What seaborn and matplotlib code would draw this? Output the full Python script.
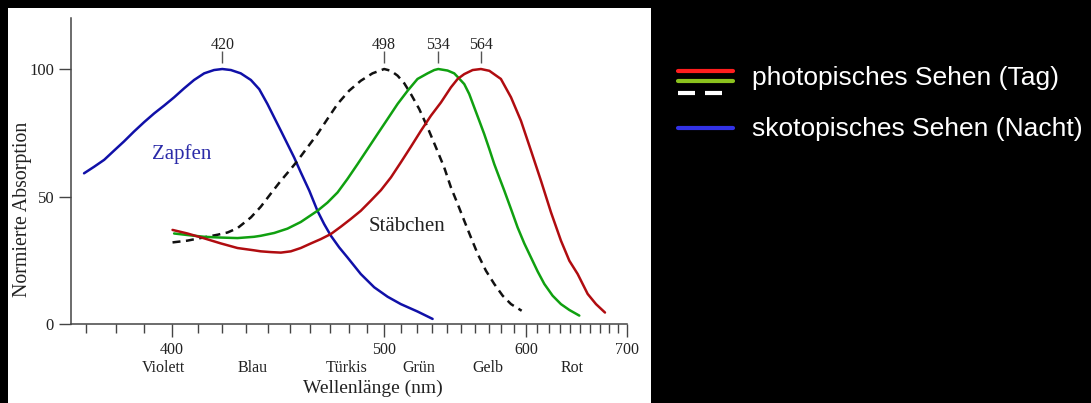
import matplotlib.pyplot as plt
import matplotlib.transforms as mtransforms
import numpy as np
import pandas as pd
import seaborn as sns
from matplotlib.lines import Line2D
from matplotlib.patches import Rectangle
from matplotlib.ticker import FixedLocator, NullFormatter

# absorption curves (wavelength in nm, normalised absorption)
nm_zapfen_s = [369.5, 372.8, 376.1, 379.4, 382.8, 386.3, 389.9, 393.5, 397.2,
               400.9, 404.7, 408.6, 412.6, 416.6, 420, 423.6, 427.8, 432.2,
               435.9, 439.6, 442.7, 445.8, 448.9, 452.1, 455.3, 459.5, 463.6,
               467, 470.5, 474.9, 479.3, 486.6, 494.2, 502, 510, 520.4, 530.2]
abs_zapfen_s = [59.1, 61.7, 64.4, 68.0, 71.6, 75.5, 79.2, 82.6, 85.7, 88.9,
                92.4, 95.7, 98.3, 99.6, 100, 99.6, 98.3, 95.7, 92.1, 86.3, 81.0,
                75.8, 70.6, 65.3, 59.5, 52.3, 44.4, 39.2, 34.6, 30.0, 26.1,
                19.6, 14.4, 10.7, 7.8, 4.9, 2.0]

nm_zapfen_m = [400.9, 406.0, 412.6, 419.4, 426.4, 433.6, 436.6, 442.7, 448.9,
               455.3, 463.6, 468.7, 474.0, 479.3, 484.8, 490.4, 496.1, 502.0,
               508.0, 514.2, 520.4, 526.9, 531.3, 534, 540.3, 544.9, 547.3,
               552.0, 555.6, 559.3, 563.0, 566.7, 570.6, 574.4, 578.3, 582.3,
               587.7, 593.1, 598.7, 604.4, 610.2, 616.1, 623.6, 631.3, 639.3,
               649.0]
abs_zapfen_m = [35.5, 34.9, 34.2, 33.9, 33.7, 34.2, 34.6, 35.7, 37.4, 40.0,
                44.4, 47.6, 51.6, 56.9, 62.7, 68.6, 74.5, 80.4, 86.3, 91.5,
                96.1, 98.3, 99.6, 100, 99.4, 98.3, 96.9, 94.1, 90.2, 84.9, 79.7,
                74.5, 68.6, 62.7, 57.5, 52.3, 45.1, 37.9, 31.6, 26.1, 20.6,
                15.7, 11.1, 7.8, 5.5, 3.3]

nm_zapfen_l = [400.3, 406.0, 412.6, 419.4, 426.4, 433.6, 436.6, 441.2, 445.8,
               450.5, 455.3, 460.3, 465.3, 470.5, 475.8, 481.1, 486.6, 492.3,
               498.1, 504.0, 510.0, 516.2, 522.6, 529.1, 535.8, 542.6, 547.3,
               552.0, 558.1, 564.2, 570.6, 579.6, 587.7, 595.9, 604.4, 613.1,
               622.1, 631.3, 639.3, 647.4, 657.4, 666.0, 675.5]
abs_zapfen_l = [36.9, 35.5, 33.6, 31.6, 29.8, 28.9, 28.5, 28.2, 28.0, 28.5,
                29.8, 31.6, 33.3, 35.3, 38.2, 41.2, 44.4, 48.4, 52.5, 57.5,
                63.4, 69.5, 75.8, 81.7, 86.9, 92.8, 96.1, 98.0, 99.6, 100,
                99.3, 96.1, 88.9, 79.7, 68.0, 56.2, 43.8, 32.7, 24.8, 19.6,
                11.8, 7.8, 4.5]

nm_staebchen = [400.3, 406.0, 412.6, 418.0, 422.2, 426.4, 432.2, 436.6, 441.2,
                445.8, 450.5, 453.7, 458.6, 463.6, 468.7, 474.0, 480.2, 486.6,
                493.2, 500.0, 504.0, 508.0, 512.1, 516.2, 521.5, 526.9, 532.4,
                538.0, 542.6, 547.3, 552.0, 556.8, 561.8, 568.0, 574.4, 581.0,
                587.7, 596.5]
abs_staebchen = [32.0, 32.7, 34.0, 35.0, 35.9, 37.6, 41.8, 46.0, 51.2, 56.2,
                 60.8, 64.0, 69.3, 74.5, 80.4, 86.3, 91.5, 95.4, 98.3, 100,
                 99.3, 97.4, 94.4, 90.2, 84.3, 77.1, 69.3, 61.4, 53.6, 47.1,
                 40.5, 34.0, 27.5, 20.9, 15.7, 11.1, 7.8, 5.2]

peak_labels = ["420", "498", "534", "564"]
band_names = ["Violett", "Blau", "Türkis", "Grün", "Gelb", "Rot"]
band_nm = [397, 433, 479, 521.5, 569.5, 642]
major_ticks = [400, 500, 600, 700]
minor_ticks = list(range(370, 701, 10))

curves = {
    "S": (nm_zapfen_s, abs_zapfen_s),
    "rod": (nm_staebchen, abs_staebchen),
    "M": (nm_zapfen_m, abs_zapfen_m),
    "L": (nm_zapfen_l, abs_zapfen_l),
}
df = pd.concat(
    [pd.DataFrame({"nm": x, "absorption": y, "curve": k}) for k, (x, y) in curves.items()],
    ignore_index=True,
)

colors = {"S": "#1010a8", "rod": "#111111", "M": "#10a010", "L": "#b00c10"}
dash_map = {"S": "", "rod": (3.2, 2.2), "M": "", "L": ""}

sns.set_style("ticks")
plt.rcParams["font.family"] = ["Liberation Serif", "DejaVu Serif"]
text_col = "#222222"

fig = plt.figure(figsize=(10.91, 4.03), dpi=100, facecolor="black")
fig.patches.append(Rectangle((0.0073, 0), 0.5894, 0.98, transform=fig.transFigure,
                             facecolor="white", edgecolor="none", zorder=-1))
ax = fig.add_axes([0.0655, 0.196, 0.5092, 0.7593])
ax.set_facecolor("white")

sns.lineplot(data=df, x="nm", y="absorption", hue="curve", style="curve",
             palette=colors, dashes=dash_map, estimator=None, sort=True,
             linewidth=1.8, legend=False, ax=ax)


def fwd(x):
    with np.errstate(divide="ignore"):
        return -1000.0 / np.asarray(x, dtype=float)


def inv(y):
    with np.errstate(divide="ignore"):
        return -1000.0 / np.asarray(y, dtype=float)


ax.set_xscale("function", functions=(fwd, inv))
ax.set_xlim(365.5, 700)
ax.set_ylim(0, 120)
ax.xaxis.set_major_locator(FixedLocator(major_ticks))
ax.xaxis.set_minor_locator(FixedLocator(minor_ticks))
ax.set_xticks(major_ticks, labels=[str(t) for t in major_ticks])
ax.xaxis.set_minor_formatter(NullFormatter())
ax.set_yticks([0, 50, 100])

sns.despine(ax=ax)
for side in ["left", "bottom"]:
    ax.spines[side].set_color("#444444")
    ax.spines[side].set_linewidth(1.1)
ax.tick_params(axis="x", which="major", length=9.5, width=1, color="#444444",
               labelsize=11.5, labelcolor=text_col, pad=3.8)
ax.tick_params(axis="x", which="minor", length=6.5, width=1, color="#444444")
ax.tick_params(axis="y", length=9, width=1, color="#444444", labelsize=12,
               labelcolor=text_col, pad=3.5)

ax.set_xlabel("Wellenlänge (nm)", fontsize=14, color=text_col)
ax.xaxis.set_label_coords(0.543, -0.183)
ax.set_ylabel("Normierte Absorption", fontsize=14.3, color=text_col)
ax.yaxis.set_label_coords(-0.071, 0.376)

blend = mtransforms.blended_transform_factory(ax.transData, ax.transAxes)
for name, pos in zip(band_names, band_nm):
    ax.text(pos, -0.143, name, transform=blend, ha="center", va="center",
            fontsize=11.5, color=text_col)

# peak markers at the maximum of each curve
for key, label in zip(["S", "rod", "M", "L"], peak_labels):
    x, y = curves[key]
    p = x[int(np.argmax(y))]
    ax.vlines(p, 102.4, 107.2, color="#555555", linewidth=1)
    ax.text(p, 107.9, label, ha="center", va="baseline", fontsize=11.5,
            color=text_col)

ax.text(403.8, 66.8, "Zapfen", ha="center", va="center", fontsize=15,
        color="#2a2aa8")
ax.text(513.7, 38.2, "Stäbchen", ha="center", va="center", fontsize=15,
        color=text_col)

# legend on the black side
W, H = 1091, 403
sans = ["Liberation Sans", "DejaVu Sans"]
for y, col in [(71, "#ff1e1e"), (81, "#8cc21e")]:
    fig.add_artist(Line2D([678 / W, 733 / W], [1 - y / H] * 2,
                          transform=fig.transFigure, color=col, linewidth=3))
fig.add_artist(Line2D([678 / W, 722 / W], [1 - 93 / H] * 2,
                      transform=fig.transFigure, color="white", linewidth=3,
                      dashes=(4.08, 2.4)))
fig.add_artist(Line2D([678 / W, 733 / W], [1 - 128 / H] * 2,
                      transform=fig.transFigure, color="#3232e6", linewidth=3))
fig.text(752 / W, 1 - 78 / H, "photopisches Sehen (Tag)", color="white",
         fontsize=19, family=sans, va="center")
fig.text(752 / W, 1 - 129 / H, "skotopisches Sehen (Nacht)", color="white",
         fontsize=19, family=sans, va="center")

fig.savefig("out.png", dpi=100, facecolor="black")
